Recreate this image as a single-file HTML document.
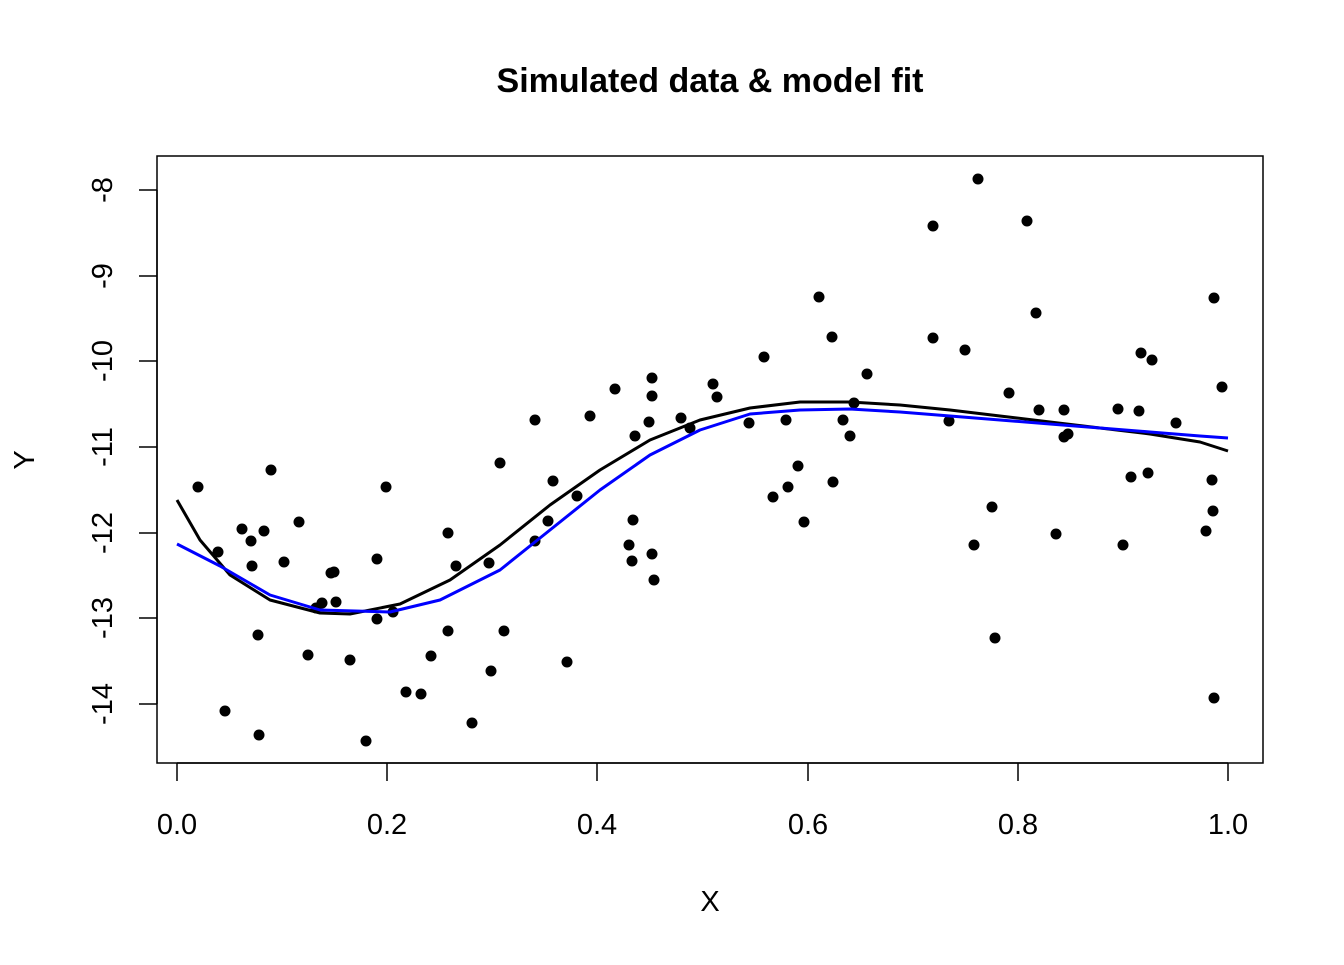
<!DOCTYPE html>
<html><head><meta charset="utf-8"><style>body{margin:0;background:#fff}</style></head><body>
<svg width="1344" height="960" xmlns="http://www.w3.org/2000/svg" font-family="Liberation Sans, Arial, sans-serif">
<rect width="1344" height="960" fill="#fff"/>
<text x="710" y="92" text-anchor="middle" font-size="34" font-weight="bold">Simulated data &amp; model fit</text>
<rect x="157" y="156" width="1106" height="607" fill="none" stroke="#000" stroke-width="1.5"/>
<g stroke="#000" stroke-width="1.5">
<line x1="177" y1="763" x2="1228" y2="763"/>
<line x1="177" y1="763" x2="177" y2="781"/><line x1="387" y1="763" x2="387" y2="781"/><line x1="597" y1="763" x2="597" y2="781"/><line x1="808" y1="763" x2="808" y2="781"/><line x1="1018" y1="763" x2="1018" y2="781"/><line x1="1228" y1="763" x2="1228" y2="781"/>
<line x1="157" y1="190" x2="157" y2="704"/>
<line x1="139" y1="190" x2="157" y2="190"/><line x1="139" y1="276" x2="157" y2="276"/><line x1="139" y1="361" x2="157" y2="361"/><line x1="139" y1="447" x2="157" y2="447"/><line x1="139" y1="533" x2="157" y2="533"/><line x1="139" y1="618" x2="157" y2="618"/><line x1="139" y1="704" x2="157" y2="704"/>
</g>
<g font-size="29" text-anchor="middle">
<text x="177" y="834">0.0</text><text x="387" y="834">0.2</text><text x="597" y="834">0.4</text><text x="808" y="834">0.6</text><text x="1018" y="834">0.8</text><text x="1228" y="834">1.0</text>
<text x="710" y="911">X</text>
<text transform="translate(112,190) rotate(-90)">-8</text>
<text transform="translate(112,276) rotate(-90)">-9</text>
<text transform="translate(112,361) rotate(-90)">-10</text>
<text transform="translate(112,447) rotate(-90)">-11</text>
<text transform="translate(112,533) rotate(-90)">-12</text>
<text transform="translate(112,618) rotate(-90)">-13</text>
<text transform="translate(112,704) rotate(-90)">-14</text>
<text transform="translate(34,460) rotate(-90)">Y</text>
</g>
<g fill="#000">
<circle cx="198" cy="487" r="5.5"/><circle cx="218" cy="552" r="5.5"/><circle cx="225" cy="711" r="5.5"/><circle cx="242" cy="529" r="5.5"/><circle cx="251" cy="541" r="5.5"/><circle cx="252" cy="566" r="5.5"/><circle cx="258" cy="635" r="5.5"/><circle cx="259" cy="735" r="5.5"/><circle cx="264" cy="531" r="5.5"/><circle cx="271" cy="470" r="5.5"/>
<circle cx="284" cy="562" r="5.5"/><circle cx="299" cy="522" r="5.5"/><circle cx="308" cy="655" r="5.5"/><circle cx="316" cy="608" r="5.5"/><circle cx="322" cy="603" r="5.5"/><circle cx="331" cy="573" r="5.5"/><circle cx="334" cy="572" r="5.5"/><circle cx="336" cy="602" r="5.5"/><circle cx="350" cy="660" r="5.5"/><circle cx="366" cy="741" r="5.5"/>
<circle cx="377" cy="559" r="5.5"/><circle cx="377" cy="619" r="5.5"/><circle cx="386" cy="487" r="5.5"/><circle cx="393" cy="612" r="5.5"/><circle cx="406" cy="692" r="5.5"/><circle cx="421" cy="694" r="5.5"/><circle cx="431" cy="656" r="5.5"/><circle cx="448" cy="533" r="5.5"/><circle cx="448" cy="631" r="5.5"/><circle cx="456" cy="566" r="5.5"/>
<circle cx="472" cy="723" r="5.5"/><circle cx="489" cy="563" r="5.5"/><circle cx="491" cy="671" r="5.5"/><circle cx="500" cy="463" r="5.5"/><circle cx="504" cy="631" r="5.5"/><circle cx="535" cy="420" r="5.5"/><circle cx="535" cy="541" r="5.5"/><circle cx="548" cy="521" r="5.5"/><circle cx="553" cy="481" r="5.5"/><circle cx="567" cy="662" r="5.5"/>
<circle cx="577" cy="496" r="5.5"/><circle cx="590" cy="416" r="5.5"/><circle cx="615" cy="389" r="5.5"/><circle cx="629" cy="545" r="5.5"/><circle cx="632" cy="561" r="5.5"/><circle cx="633" cy="520" r="5.5"/><circle cx="635" cy="436" r="5.5"/><circle cx="649" cy="422" r="5.5"/><circle cx="652" cy="378" r="5.5"/><circle cx="652" cy="396" r="5.5"/>
<circle cx="652" cy="554" r="5.5"/><circle cx="654" cy="580" r="5.5"/><circle cx="681" cy="418" r="5.5"/><circle cx="690" cy="428" r="5.5"/><circle cx="713" cy="384" r="5.5"/><circle cx="717" cy="397" r="5.5"/><circle cx="749" cy="423" r="5.5"/><circle cx="764" cy="357" r="5.5"/><circle cx="773" cy="497" r="5.5"/><circle cx="786" cy="420" r="5.5"/>
<circle cx="788" cy="487" r="5.5"/><circle cx="798" cy="466" r="5.5"/><circle cx="804" cy="522" r="5.5"/><circle cx="819" cy="297" r="5.5"/><circle cx="832" cy="337" r="5.5"/><circle cx="833" cy="482" r="5.5"/><circle cx="843" cy="420" r="5.5"/><circle cx="850" cy="436" r="5.5"/><circle cx="854" cy="403" r="5.5"/><circle cx="867" cy="374" r="5.5"/>
<circle cx="933" cy="226" r="5.5"/><circle cx="933" cy="338" r="5.5"/><circle cx="949" cy="421" r="5.5"/><circle cx="965" cy="350" r="5.5"/><circle cx="974" cy="545" r="5.5"/><circle cx="978" cy="179" r="5.5"/><circle cx="992" cy="507" r="5.5"/><circle cx="995" cy="638" r="5.5"/><circle cx="1009" cy="393" r="5.5"/><circle cx="1027" cy="221" r="5.5"/>
<circle cx="1036" cy="313" r="5.5"/><circle cx="1039" cy="410" r="5.5"/><circle cx="1056" cy="534" r="5.5"/><circle cx="1064" cy="410" r="5.5"/><circle cx="1064" cy="437" r="5.5"/><circle cx="1068" cy="434" r="5.5"/><circle cx="1118" cy="409" r="5.5"/><circle cx="1123" cy="545" r="5.5"/><circle cx="1131" cy="477" r="5.5"/><circle cx="1139" cy="411" r="5.5"/>
<circle cx="1141" cy="353" r="5.5"/><circle cx="1148" cy="473" r="5.5"/><circle cx="1152" cy="360" r="5.5"/><circle cx="1176" cy="423" r="5.5"/><circle cx="1206" cy="531" r="5.5"/><circle cx="1212" cy="480" r="5.5"/><circle cx="1213" cy="511" r="5.5"/><circle cx="1214" cy="298" r="5.5"/><circle cx="1214" cy="698" r="5.5"/><circle cx="1222" cy="387" r="5.5"/>
</g>
<polyline fill="none" stroke="#000" stroke-width="3" stroke-linejoin="round" points="177,500 200,540 230,575 270,600 320,613 350,614 400,604 450,580 500,545 550,505 600,470 650,440 700,420 750,408 800,402 850,402 900,405 950,410 1000,416 1050,422 1100,428 1150,434 1200,442 1228,451"/>
<polyline fill="none" stroke="#0000ff" stroke-width="3" stroke-linejoin="round" points="177,544 220,566 270,595 320,610 390,612 440,600 500,570 550,530 600,490 650,455 700,430 750,414 800,410 850,409 900,412 950,416 1000,420 1050,424 1100,428 1150,432 1200,436 1228,438"/>
</svg>
</body></html>
